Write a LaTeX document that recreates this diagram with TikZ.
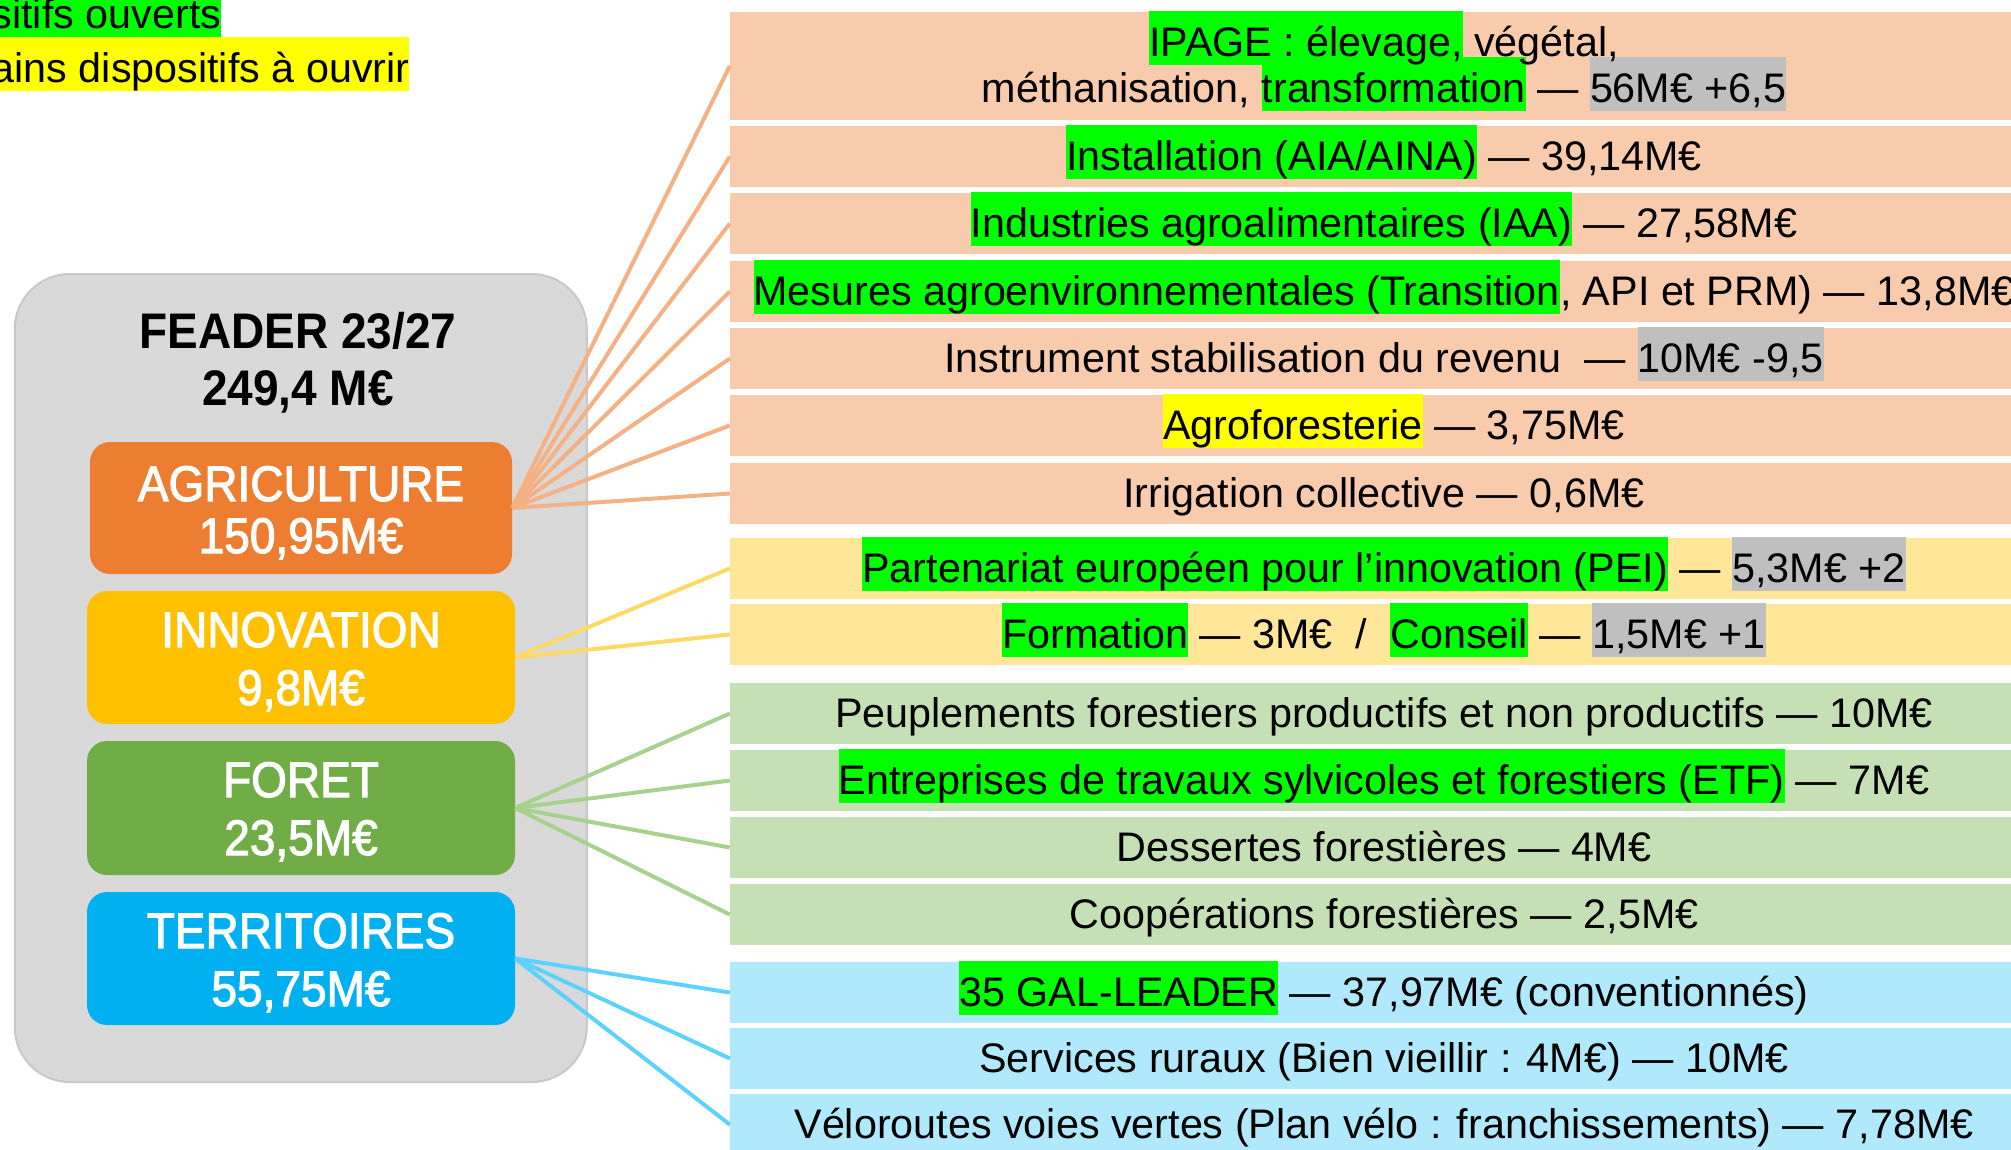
\documentclass[tikz,border=0pt]{standalone}
\usepackage{fontspec}
\setmainfont{Liberation Sans}
\newfontfamily\lblfont[FakeStretch=0.92,FakeBold=2.2]{Liberation Sans}
\newfontfamily\titlefont[FakeStretch=0.92]{Liberation Sans}
\definecolor{peach}{HTML}{F8CBAD}
\definecolor{paleyellow}{HTML}{FFE699}
\definecolor{palegreen}{HTML}{C5E0B4}
\definecolor{paleblue}{HTML}{B0E8FC}
\definecolor{lineorange}{HTML}{F4B183}
\definecolor{lineyellow}{HTML}{FFD966}
\definecolor{linegreen}{HTML}{A9D18E}
\definecolor{lineblue}{HTML}{5CD3FF}
\definecolor{agricol}{HTML}{ED7D31}
\definecolor{innovcol}{HTML}{FFC000}
\definecolor{foretcol}{HTML}{70AD47}
\definecolor{terrcol}{HTML}{00B0F0}
\definecolor{panelgray}{HTML}{D9D9D9}
\definecolor{panelborder}{HTML}{C8C8C8}
\definecolor{hlgreen}{HTML}{00FF00}
\definecolor{hlyellow}{HTML}{FFFF00}
\definecolor{hlgray}{HTML}{BFBFBF}
\newcommand\hlbox[2]{{\setlength{\fboxsep}{0pt}\colorbox{#1}{\rule[-9pt]{0pt}{54pt}#2}}}
\begin{document}
\begin{tikzpicture}[x=1pt,y=-1pt,
  rowbox/.style={rectangle, draw=none, inner sep=0pt, minimum width=1308pt, minimum height=61pt},
  rowtext/.style={anchor=base, inner sep=0pt, font=\fontsize{41.3}{49}\selectfont},
  catbox/.style={rectangle, draw=none, rounded corners=20pt, inner sep=0pt},
  cattext/.style={anchor=base, inner sep=0pt, text=white, font=\lblfont\fontsize{50}{56}\selectfont},
  conn/.style={line width=4pt},
  legendtext/.style={anchor=base west, inner sep=0pt, font=\fontsize{41.3}{49}\selectfont}]
\clip (0,0) rectangle (2011,1149);
\fill[white] (0,0) rectangle (2011,1149);

% legend
\node[legendtext] (leg1) at (-8.5,28) {\hlbox{hlgreen}{sitifs ouverts}};
\node[legendtext] (leg2) at (-8.5,82) {\hlbox{hlyellow}{ains dispositifs à ouvrir}};

% panel
\node[rectangle, fill=panelgray, draw=panelborder, line width=2pt, rounded corners=55pt,
      minimum width=572pt, minimum height=808pt, inner sep=0pt] (panel) at (300.75,678) {};
\node[anchor=base, inner sep=0pt, font=\titlefont\bfseries\fontsize{50}{56}\selectfont] (title1) at (298,348) {FEADER 23/27};
\node[anchor=base, inner sep=0pt, font=\titlefont\bfseries\fontsize{50}{56}\selectfont] (title2) at (298,405) {249,4 M€};

% category boxes
\node[catbox, fill=agricol, minimum width=422pt, minimum height=132pt] (agri) at (301,508) {};
\node[cattext] (agriA) at (301,501) {AGRICULTURE};
\node[cattext] (agriB) at (301,553) {150,95M€};
\node[catbox, fill=innovcol, minimum width=428pt, minimum height=133pt] (innov) at (301,657.5) {};
\node[cattext] (innovA) at (301,647) {INNOVATION};
\node[cattext] (innovB) at (301,705) {9,8M€};
\node[catbox, fill=foretcol, minimum width=428pt, minimum height=134pt] (foret) at (301,808) {};
\node[cattext] (foretA) at (301,797) {FORET};
\node[cattext] (foretB) at (301,855) {23,5M€};
\node[catbox, fill=terrcol, minimum width=428pt, minimum height=133pt] (terr) at (301,958.5) {};
\node[cattext] (terrA) at (301,948) {TERRITOIRES};
\node[cattext] (terrB) at (301,1006) {55,75M€};

% rows
\node[rowbox, fill=peach, minimum height=108pt] (r1) at (1384,66) {};
\node[rowbox, fill=peach] (r2) at (1384,156.5) {};
\node[rowbox, fill=peach] (r3) at (1384,223.5) {};
\node[rowbox, fill=peach] (r4) at (1384,291.5) {};
\node[rowbox, fill=peach] (r5) at (1384,358.5) {};
\node[rowbox, fill=peach] (r6) at (1384,425.5) {};
\node[rowbox, fill=peach] (r7) at (1384,493.5) {};
\node[rowbox, fill=paleyellow] (r8) at (1384,568.5) {};
\node[rowbox, fill=paleyellow] (r9) at (1384,634.5) {};
\node[rowbox, fill=palegreen] (r10) at (1384,713.5) {};
\node[rowbox, fill=palegreen] (r11) at (1384,780.5) {};
\node[rowbox, fill=palegreen] (r12) at (1384,847.5) {};
\node[rowbox, fill=palegreen] (r13) at (1384,914.5) {};
\node[rowbox, fill=paleblue] (r14) at (1384,992.5) {};
\node[rowbox, fill=paleblue] (r15) at (1384,1058.5) {};
\node[rowbox, fill=paleblue] (r16) at (1384,1124.5) {};

% row texts (second line of row 1 first, so the first line stays on top)
\node[rowtext] (t1b) at (1384,102) {méthanisation, \hlbox{hlgreen}{transformation} — \hlbox{hlgray}{56M€ +6,5}};
\node[rowtext] (t1a) at (1384,56) {\hlbox{hlgreen}{IPAGE : élevage,} végétal,};
\node[rowtext] (t2) at (1384,170) {\hlbox{hlgreen}{Installation (AIA/AINA)} — 39,14M€};
\node[rowtext] (t3) at (1384,237) {\hlbox{hlgreen}{Industries agroalimentaires (IAA)} — 27,58M€};
\node[rowtext] (t4) at (1384,305) {\hlbox{hlgreen}{Mesures agroenvironnementales (Transition}, API et PRM) — 13,8M€};
\node[rowtext] (t5) at (1384,372) {Instrument stabilisation du revenu \ — \hlbox{hlgray}{10M€ -9,5}};
\node[rowtext] (t6) at (1394,439) {\hlbox{hlyellow}{Agroforesterie} — 3,75M€};
\node[rowtext] (t7) at (1384,507) {Irrigation collective — 0,6M€};
\node[rowtext] (t8) at (1384,582) {\hlbox{hlgreen}{Partenariat européen pour l’innovation (PEI)} — \hlbox{hlgray}{5,3M€ +2}};
\node[rowtext] (t9) at (1384,648) {\hlbox{hlgreen}{Formation} — 3M€ \ / \ \hlbox{hlgreen}{Conseil} — \hlbox{hlgray}{1,5M€ +1}};
\node[rowtext] (t10) at (1384,727) {Peuplements forestiers productifs et non productifs — 10M€};
\node[rowtext] (t11) at (1384,794) {\hlbox{hlgreen}{Entreprises de travaux sylvicoles et forestiers (ETF)} — 7M€};
\node[rowtext] (t12) at (1384,861) {Dessertes forestières — 4M€};
\node[rowtext] (t13) at (1384,928) {Coopérations forestières — 2,5M€};
\node[rowtext] (t14) at (1384,1006) {\hlbox{hlgreen}{35 GAL-LEADER} — 37,97M€ (conventionnés)};
\node[rowtext] (t15) at (1384,1072) {Services ruraux (Bien vieillir : 4M€) — 10M€};
\node[rowtext] (t16) at (1384,1138) {Véloroutes voies vertes (Plan vélo : franchissements) — 7,78M€};

% connectors
\foreach \r in {r1,r2,r3,r4,r5,r6,r7}
  \draw[conn, lineorange] (agri.east) -- (\r.west);
\foreach \r in {r8,r9}
  \draw[conn, lineyellow] (innov.east) -- (\r.west);
\foreach \r in {r10,r11,r12,r13}
  \draw[conn, linegreen] (foret.east) -- (\r.west);
\foreach \r in {r14,r15,r16}
  \draw[conn, lineblue] (terr.east) -- (\r.west);
\end{tikzpicture}
\end{document}
